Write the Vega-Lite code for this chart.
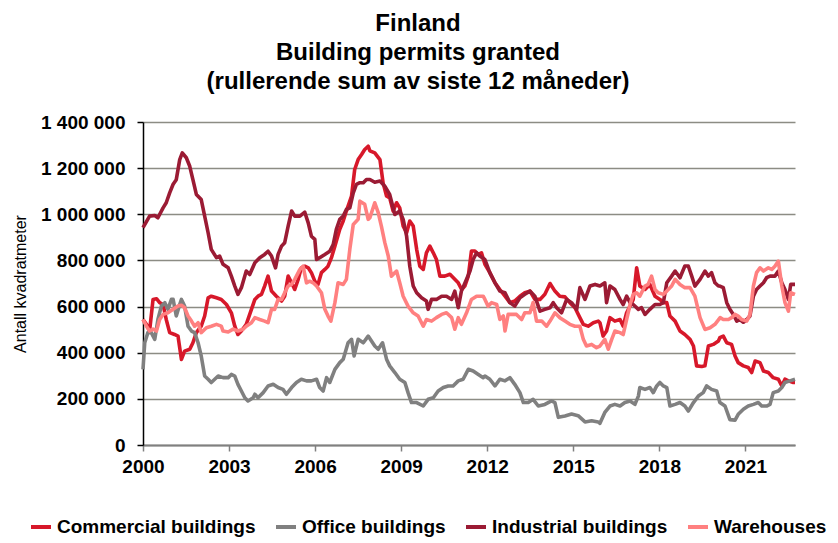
{
 "$schema": "https://vega.github.io/schema/vega-lite/v6.json",
 "width": 652, "height": 323,
 "autosize": {"type": "none"},
 "padding": {"left": 143, "top": 122, "right": 43, "bottom": 98},
 "background": "white",
 "config": {
  "font": "Liberation Sans",
  "view": {"stroke": null},
  "locale": {"number": {"decimal": ",", "thousands": " ", "grouping": [3], "currency": ["", ""]}}
 },
 "title": {"text": ["Finland", "Building permits granted", "(rullerende sum av siste 12 måneder)"], "fontSize": 24, "fontWeight": "bold", "lineHeight": 29, "anchor": "middle", "frame": "group", "dx": -51, "offset": 19, "color": "black", "font": "Liberation Sans"},
 "datasets": {
  "commercial": [
   {"year":2000.00,"value":544000},{"year":2000.12,"value":523000},{"year":2000.23,"value":494000},{"year":2000.35,"value":631000},{"year":2000.47,"value":634000},{"year":2000.58,"value":617000},{"year":2000.70,"value":609000},{"year":2000.81,"value":544000},{"year":2000.93,"value":487000},{"year":2001.10,"value":479000},{"year":2001.22,"value":472000},{"year":2001.34,"value":371000},{"year":2001.45,"value":407000},{"year":2001.63,"value":415000},{"year":2001.74,"value":443000},{"year":2001.86,"value":487000},{"year":2002.03,"value":515000},{"year":2002.15,"value":559000},{"year":2002.27,"value":638000},{"year":2002.38,"value":645000},{"year":2002.56,"value":638000},{"year":2002.73,"value":631000},{"year":2002.91,"value":609000},{"year":2003.08,"value":573000},{"year":2003.20,"value":515000},{"year":2003.31,"value":479000},{"year":2003.43,"value":494000},{"year":2003.60,"value":523000},{"year":2003.78,"value":588000},
   {"year":2003.90,"value":631000},{"year":2004.01,"value":645000},{"year":2004.13,"value":653000},{"year":2004.24,"value":689000},{"year":2004.36,"value":732000},{"year":2004.48,"value":667000},{"year":2004.65,"value":645000},{"year":2004.83,"value":624000},{"year":2004.94,"value":645000},{"year":2005.06,"value":732000},{"year":2005.18,"value":703000},{"year":2005.29,"value":674000},{"year":2005.41,"value":718000},{"year":2005.52,"value":768000},{"year":2005.64,"value":775000},{"year":2005.76,"value":768000},{"year":2005.87,"value":747000},{"year":2005.99,"value":710000},{"year":2006.10,"value":696000},{"year":2006.22,"value":747000},{"year":2006.34,"value":761000},{"year":2006.45,"value":775000},{"year":2006.57,"value":812000},{"year":2006.69,"value":862000},{"year":2006.86,"value":935000},{"year":2006.98,"value":971000},{"year":2007.09,"value":1014000},{"year":2007.27,"value":1079000},{"year":2007.38,"value":1194000},{"year":2007.50,"value":1237000},{"year":2007.62,"value":1259000},{"year":2007.73,"value":1281000},{"year":2007.85,"value":1295000},
   {"year":2007.91,"value":1275000},{"year":2008.08,"value":1266000},{"year":2008.26,"value":1237000},{"year":2008.37,"value":1136000},{"year":2008.49,"value":1079000},{"year":2008.60,"value":1071000},{"year":2008.72,"value":1014000},{"year":2008.84,"value":1050000},{"year":2008.95,"value":1028000},{"year":2009.07,"value":949000},{"year":2009.19,"value":920000},{"year":2009.30,"value":971000},{"year":2009.42,"value":949000},{"year":2009.54,"value":848000},{"year":2009.65,"value":775000},{"year":2009.77,"value":761000},{"year":2009.88,"value":833000},{"year":2010.00,"value":862000},{"year":2010.12,"value":833000},{"year":2010.23,"value":804000},{"year":2010.35,"value":732000},{"year":2010.52,"value":732000},{"year":2010.70,"value":740000},{"year":2010.87,"value":718000},{"year":2010.99,"value":703000},{"year":2011.11,"value":674000},{"year":2011.22,"value":689000},{"year":2011.34,"value":732000},{"year":2011.45,"value":841000},{"year":2011.57,"value":841000},{"year":2011.69,"value":826000},{"year":2011.80,"value":833000},
   {"year":2011.92,"value":783000},{"year":2012.09,"value":747000},{"year":2012.27,"value":703000},{"year":2012.44,"value":674000},{"year":2012.62,"value":645000},{"year":2012.79,"value":617000},{"year":2012.96,"value":624000},{"year":2013.14,"value":645000},{"year":2013.31,"value":660000},{"year":2013.49,"value":667000},{"year":2013.66,"value":631000},{"year":2013.84,"value":631000},{"year":2014.01,"value":653000},{"year":2014.19,"value":700000},{"year":2014.36,"value":667000},{"year":2014.53,"value":645000},{"year":2014.71,"value":642000},{"year":2014.88,"value":617000},{"year":2015.06,"value":595000},{"year":2015.23,"value":552000},{"year":2015.35,"value":523000},{"year":2015.52,"value":515000},{"year":2015.70,"value":530000},{"year":2015.87,"value":537000},
   {"year":2015.93,"value":530000},{"year":2016.04,"value":472000},{"year":2016.16,"value":494000},{"year":2016.28,"value":552000},{"year":2016.45,"value":537000},{"year":2016.63,"value":544000},{"year":2016.74,"value":515000},{"year":2016.86,"value":573000},{"year":2016.98,"value":602000},{"year":2017.09,"value":631000},{"year":2017.21,"value":768000},{"year":2017.32,"value":689000},{"year":2017.50,"value":674000},{"year":2017.67,"value":696000},{"year":2017.85,"value":645000},{"year":2018.02,"value":631000},{"year":2018.14,"value":617000},{"year":2018.26,"value":617000},{"year":2018.37,"value":559000},{"year":2018.55,"value":537000},{"year":2018.72,"value":494000},{"year":2018.89,"value":479000},{"year":2019.07,"value":458000},{"year":2019.19,"value":429000},{"year":2019.30,"value":343000},{"year":2019.48,"value":340000},{"year":2019.59,"value":343000},{"year":2019.71,"value":429000},{"year":2019.88,"value":436000},{"year":2020.06,"value":451000},
   {"year":2020.11,"value":465000},{"year":2020.23,"value":472000},{"year":2020.35,"value":443000},{"year":2020.52,"value":436000},{"year":2020.64,"value":386000},{"year":2020.75,"value":357000},{"year":2020.93,"value":343000},{"year":2021.10,"value":336000},{"year":2021.22,"value":314000},{"year":2021.34,"value":364000},{"year":2021.51,"value":357000},{"year":2021.63,"value":321000},{"year":2021.80,"value":314000},{"year":2021.97,"value":292000},{"year":2022.15,"value":285000},{"year":2022.27,"value":256000},{"year":2022.38,"value":285000},{"year":2022.50,"value":278000},{"year":2022.67,"value":271000},{"year":2022.73,"value":271000}
  ],
  "office": [
   {"year":2000.00,"value":328000},{"year":2000.06,"value":443000},{"year":2000.17,"value":487000},{"year":2000.29,"value":487000},{"year":2000.41,"value":458000},{"year":2000.52,"value":544000},{"year":2000.64,"value":602000},{"year":2000.76,"value":617000},{"year":2000.87,"value":588000},{"year":2000.99,"value":631000},{"year":2001.05,"value":631000},{"year":2001.16,"value":559000},{"year":2001.28,"value":609000},{"year":2001.34,"value":631000},{"year":2001.45,"value":602000},{"year":2001.57,"value":515000},{"year":2001.69,"value":494000},{"year":2001.80,"value":487000},{"year":2001.92,"value":443000},{"year":2002.03,"value":386000},{"year":2002.15,"value":299000},{"year":2002.27,"value":285000},{"year":2002.38,"value":271000},{"year":2002.50,"value":285000},{"year":2002.62,"value":299000},{"year":2002.79,"value":292000},{"year":2002.97,"value":292000},{"year":2003.08,"value":306000},{"year":2003.20,"value":299000},{"year":2003.31,"value":263000},{"year":2003.43,"value":234000},{"year":2003.55,"value":205000},{"year":2003.66,"value":191000},{"year":2003.84,"value":205000},
   {"year":2003.90,"value":220000},{"year":2004.01,"value":205000},{"year":2004.19,"value":227000},{"year":2004.36,"value":256000},{"year":2004.54,"value":263000},{"year":2004.71,"value":249000},{"year":2004.88,"value":241000},{"year":2005.00,"value":220000},{"year":2005.18,"value":249000},{"year":2005.35,"value":271000},{"year":2005.52,"value":285000},{"year":2005.70,"value":278000},{"year":2005.87,"value":278000},{"year":2006.05,"value":285000},{"year":2006.16,"value":249000},{"year":2006.28,"value":234000},{"year":2006.40,"value":292000},{"year":2006.51,"value":271000},{"year":2006.69,"value":328000},{"year":2006.86,"value":357000},{"year":2006.98,"value":372000},{"year":2007.15,"value":443000},{"year":2007.27,"value":458000},{"year":2007.36,"value":386000},{"year":2007.50,"value":458000},{"year":2007.68,"value":443000},{"year":2007.85,"value":472000},
   {"year":2008.08,"value":429000},{"year":2008.20,"value":415000},{"year":2008.35,"value":443000},{"year":2008.49,"value":372000},{"year":2008.60,"value":343000},{"year":2008.78,"value":314000},{"year":2008.95,"value":285000},{"year":2009.13,"value":271000},{"year":2009.24,"value":227000},{"year":2009.36,"value":184000},{"year":2009.54,"value":184000},{"year":2009.77,"value":169000},{"year":2009.94,"value":198000},{"year":2010.12,"value":205000},{"year":2010.29,"value":234000},{"year":2010.47,"value":249000},{"year":2010.64,"value":256000},{"year":2010.81,"value":256000},{"year":2010.99,"value":278000},{"year":2011.16,"value":285000},{"year":2011.34,"value":328000},{"year":2011.51,"value":321000},{"year":2011.69,"value":306000},{"year":2011.86,"value":292000},
   {"year":2011.92,"value":299000},{"year":2012.09,"value":285000},{"year":2012.27,"value":256000},{"year":2012.44,"value":285000},{"year":2012.62,"value":278000},{"year":2012.79,"value":292000},{"year":2012.96,"value":263000},{"year":2013.14,"value":227000},{"year":2013.26,"value":184000},{"year":2013.43,"value":184000},{"year":2013.60,"value":198000},{"year":2013.78,"value":169000},{"year":2014.01,"value":176000},{"year":2014.24,"value":191000},{"year":2014.36,"value":184000},{"year":2014.48,"value":120000},{"year":2014.71,"value":126000},{"year":2014.94,"value":134000},{"year":2015.17,"value":127000},{"year":2015.41,"value":100000},{"year":2015.64,"value":105000},{"year":2015.87,"value":100000},
   {"year":2015.93,"value":94000},{"year":2016.10,"value":141000},{"year":2016.28,"value":169000},{"year":2016.45,"value":176000},{"year":2016.63,"value":169000},{"year":2016.80,"value":184000},{"year":2016.98,"value":191000},{"year":2017.15,"value":176000},{"year":2017.27,"value":212000},{"year":2017.32,"value":249000},{"year":2017.50,"value":241000},{"year":2017.67,"value":249000},{"year":2017.79,"value":227000},{"year":2017.91,"value":256000},{"year":2018.02,"value":271000},{"year":2018.14,"value":256000},{"year":2018.26,"value":249000},{"year":2018.37,"value":169000},{"year":2018.55,"value":176000},{"year":2018.72,"value":184000},{"year":2018.89,"value":169000},{"year":2019.01,"value":147000},{"year":2019.19,"value":184000},{"year":2019.36,"value":212000},{"year":2019.53,"value":227000},{"year":2019.65,"value":256000},{"year":2019.82,"value":241000},{"year":2020.00,"value":234000},
   {"year":2020.11,"value":184000},{"year":2020.29,"value":169000},{"year":2020.46,"value":110000},{"year":2020.64,"value":108000},{"year":2020.75,"value":133000},{"year":2020.93,"value":155000},{"year":2021.10,"value":169000},{"year":2021.28,"value":176000},{"year":2021.45,"value":184000},{"year":2021.57,"value":169000},{"year":2021.74,"value":169000},{"year":2021.86,"value":176000},{"year":2021.97,"value":227000},{"year":2022.15,"value":234000},{"year":2022.27,"value":249000},{"year":2022.38,"value":271000},{"year":2022.55,"value":278000},{"year":2022.73,"value":285000}
  ],
  "industrial": [
   {"year":2000.00,"value":942000},{"year":2000.23,"value":992000},{"year":2000.41,"value":995000},{"year":2000.52,"value":985000},{"year":2000.70,"value":1028000},{"year":2000.81,"value":1050000},{"year":2000.93,"value":1093000},{"year":2001.05,"value":1130000},{"year":2001.16,"value":1150000},{"year":2001.28,"value":1237000},{"year":2001.37,"value":1266000},{"year":2001.51,"value":1245000},{"year":2001.63,"value":1208000},{"year":2001.74,"value":1150000},{"year":2001.86,"value":1086000},{"year":2002.03,"value":1064000},{"year":2002.15,"value":992000},{"year":2002.27,"value":920000},{"year":2002.38,"value":848000},{"year":2002.56,"value":812000},{"year":2002.67,"value":819000},{"year":2002.79,"value":783000},{"year":2002.97,"value":768000},{"year":2003.08,"value":732000},{"year":2003.20,"value":689000},{"year":2003.31,"value":653000},{"year":2003.43,"value":682000},{"year":2003.60,"value":754000},{"year":2003.72,"value":739000},
   {"year":2003.90,"value":790000},{"year":2004.07,"value":812000},{"year":2004.24,"value":826000},{"year":2004.36,"value":840000},{"year":2004.48,"value":819000},{"year":2004.62,"value":768000},{"year":2004.71,"value":826000},{"year":2004.83,"value":862000},{"year":2004.94,"value":877000},{"year":2005.06,"value":949000},{"year":2005.18,"value":1014000},{"year":2005.29,"value":992000},{"year":2005.47,"value":992000},{"year":2005.64,"value":1009000},{"year":2005.76,"value":963000},{"year":2005.87,"value":905000},{"year":2005.99,"value":891000},{"year":2006.05,"value":804000},{"year":2006.16,"value":812000},{"year":2006.34,"value":826000},{"year":2006.51,"value":840000},{"year":2006.63,"value":869000},{"year":2006.74,"value":935000},{"year":2006.86,"value":978000},{"year":2006.98,"value":992000},{"year":2007.09,"value":1021000},{"year":2007.21,"value":1028000},{"year":2007.33,"value":1093000},{"year":2007.44,"value":1130000},{"year":2007.56,"value":1137000},{"year":2007.68,"value":1137000},{"year":2007.79,"value":1151000},
   {"year":2007.91,"value":1151000},{"year":2008.08,"value":1139000},{"year":2008.26,"value":1144000},{"year":2008.43,"value":1122000},{"year":2008.60,"value":1086000},{"year":2008.78,"value":999000},{"year":2008.95,"value":1014000},{"year":2009.07,"value":978000},{"year":2009.19,"value":905000},{"year":2009.30,"value":775000},{"year":2009.42,"value":689000},{"year":2009.54,"value":660000},{"year":2009.71,"value":638000},{"year":2009.88,"value":624000},{"year":2009.94,"value":588000},{"year":2010.06,"value":631000},{"year":2010.23,"value":631000},{"year":2010.41,"value":645000},{"year":2010.58,"value":645000},{"year":2010.76,"value":631000},{"year":2010.87,"value":667000},{"year":2010.99,"value":595000},{"year":2011.10,"value":667000},{"year":2011.28,"value":718000},{"year":2011.40,"value":754000},{"year":2011.51,"value":804000},{"year":2011.63,"value":833000},{"year":2011.74,"value":819000},
   {"year":2011.92,"value":804000},{"year":2012.09,"value":747000},{"year":2012.27,"value":703000},{"year":2012.44,"value":667000},{"year":2012.62,"value":660000},{"year":2012.79,"value":617000},{"year":2012.96,"value":602000},{"year":2013.14,"value":638000},{"year":2013.31,"value":653000},{"year":2013.49,"value":667000},{"year":2013.66,"value":645000},{"year":2013.84,"value":580000},{"year":2014.01,"value":588000},{"year":2014.19,"value":595000},{"year":2014.30,"value":617000},{"year":2014.42,"value":595000},{"year":2014.59,"value":573000},{"year":2014.77,"value":631000},{"year":2014.94,"value":617000},{"year":2015.12,"value":588000},{"year":2015.23,"value":682000},{"year":2015.41,"value":631000},{"year":2015.58,"value":689000},{"year":2015.76,"value":696000},
   {"year":2015.93,"value":689000},{"year":2016.10,"value":703000},{"year":2016.16,"value":617000},{"year":2016.28,"value":689000},{"year":2016.45,"value":674000},{"year":2016.63,"value":631000},{"year":2016.74,"value":609000},{"year":2016.86,"value":645000},{"year":2016.98,"value":617000},{"year":2017.09,"value":609000},{"year":2017.27,"value":588000},{"year":2017.38,"value":595000},{"year":2017.50,"value":566000},{"year":2017.67,"value":588000},{"year":2017.85,"value":609000},{"year":2018.02,"value":609000},{"year":2018.14,"value":617000},{"year":2018.26,"value":703000},{"year":2018.43,"value":732000},{"year":2018.55,"value":754000},{"year":2018.72,"value":725000},{"year":2018.89,"value":776000},{"year":2019.01,"value":776000},{"year":2019.13,"value":732000},{"year":2019.24,"value":689000},{"year":2019.42,"value":718000},{"year":2019.59,"value":754000},{"year":2019.71,"value":732000},{"year":2019.82,"value":747000},{"year":2019.94,"value":703000},{"year":2020.06,"value":689000},
   {"year":2020.11,"value":689000},{"year":2020.23,"value":682000},{"year":2020.35,"value":617000},{"year":2020.46,"value":588000},{"year":2020.58,"value":566000},{"year":2020.70,"value":537000},{"year":2020.81,"value":544000},{"year":2020.93,"value":532000},{"year":2021.05,"value":544000},{"year":2021.16,"value":559000},{"year":2021.28,"value":645000},{"year":2021.39,"value":674000},{"year":2021.51,"value":689000},{"year":2021.63,"value":703000},{"year":2021.74,"value":725000},{"year":2021.86,"value":732000},{"year":2022.03,"value":732000},{"year":2022.15,"value":754000},{"year":2022.27,"value":703000},{"year":2022.38,"value":674000},{"year":2022.50,"value":631000},{"year":2022.58,"value":696000},{"year":2022.73,"value":696000}
  ],
  "warehouses": [
   {"year":2000.00,"value":544000},{"year":2000.12,"value":515000},{"year":2000.23,"value":494000},{"year":2000.35,"value":502000},{"year":2000.47,"value":494000},{"year":2000.58,"value":544000},{"year":2000.70,"value":566000},{"year":2000.87,"value":573000},{"year":2001.05,"value":588000},{"year":2001.22,"value":602000},{"year":2001.34,"value":606000},{"year":2001.45,"value":595000},{"year":2001.57,"value":559000},{"year":2001.69,"value":537000},{"year":2001.80,"value":515000},{"year":2001.92,"value":530000},{"year":2002.03,"value":487000},{"year":2002.21,"value":508000},{"year":2002.38,"value":515000},{"year":2002.56,"value":523000},{"year":2002.73,"value":515000},{"year":2002.79,"value":494000},{"year":2002.97,"value":490000},{"year":2003.14,"value":502000},{"year":2003.31,"value":494000},{"year":2003.49,"value":502000},{"year":2003.60,"value":515000},{"year":2003.78,"value":530000},
   {"year":2003.90,"value":552000},{"year":2004.07,"value":544000},{"year":2004.24,"value":537000},{"year":2004.36,"value":530000},{"year":2004.48,"value":588000},{"year":2004.59,"value":588000},{"year":2004.71,"value":631000},{"year":2004.83,"value":631000},{"year":2004.94,"value":660000},{"year":2005.06,"value":689000},{"year":2005.18,"value":696000},{"year":2005.29,"value":718000},{"year":2005.47,"value":761000},{"year":2005.58,"value":775000},{"year":2005.70,"value":703000},{"year":2005.81,"value":710000},{"year":2005.93,"value":703000},{"year":2006.05,"value":689000},{"year":2006.22,"value":660000},{"year":2006.34,"value":588000},{"year":2006.45,"value":559000},{"year":2006.55,"value":537000},{"year":2006.69,"value":617000},{"year":2006.80,"value":703000},{"year":2006.98,"value":696000},{"year":2007.09,"value":718000},{"year":2007.21,"value":848000},{"year":2007.33,"value":956000},{"year":2007.50,"value":978000},{"year":2007.56,"value":1057000},{"year":2007.73,"value":1043000},{"year":2007.85,"value":978000},
   {"year":2007.91,"value":985000},{"year":2008.08,"value":1050000},{"year":2008.20,"value":1007000},{"year":2008.31,"value":949000},{"year":2008.43,"value":877000},{"year":2008.55,"value":819000},{"year":2008.66,"value":732000},{"year":2008.84,"value":754000},{"year":2008.95,"value":703000},{"year":2009.07,"value":645000},{"year":2009.24,"value":602000},{"year":2009.42,"value":573000},{"year":2009.59,"value":559000},{"year":2009.77,"value":515000},{"year":2009.88,"value":544000},{"year":2010.06,"value":537000},{"year":2010.23,"value":552000},{"year":2010.41,"value":566000},{"year":2010.58,"value":573000},{"year":2010.76,"value":552000},{"year":2010.87,"value":502000},{"year":2010.99,"value":552000},{"year":2011.10,"value":523000},{"year":2011.28,"value":573000},{"year":2011.45,"value":631000},{"year":2011.63,"value":645000},{"year":2011.86,"value":645000},
   {"year":2011.92,"value":631000},{"year":2012.03,"value":602000},{"year":2012.15,"value":617000},{"year":2012.33,"value":609000},{"year":2012.44,"value":544000},{"year":2012.56,"value":559000},{"year":2012.62,"value":494000},{"year":2012.73,"value":566000},{"year":2012.85,"value":566000},{"year":2013.02,"value":566000},{"year":2013.20,"value":544000},{"year":2013.31,"value":573000},{"year":2013.49,"value":573000},{"year":2013.60,"value":617000},{"year":2013.72,"value":537000},{"year":2013.90,"value":537000},{"year":2014.07,"value":515000},{"year":2014.19,"value":537000},{"year":2014.36,"value":573000},{"year":2014.53,"value":552000},{"year":2014.71,"value":537000},{"year":2014.88,"value":523000},{"year":2015.06,"value":515000},{"year":2015.23,"value":515000},{"year":2015.35,"value":458000},{"year":2015.46,"value":429000},{"year":2015.64,"value":436000},{"year":2015.81,"value":422000},
   {"year":2015.93,"value":429000},{"year":2016.10,"value":458000},{"year":2016.22,"value":415000},{"year":2016.34,"value":458000},{"year":2016.45,"value":494000},{"year":2016.63,"value":487000},{"year":2016.74,"value":479000},{"year":2016.86,"value":544000},{"year":2016.98,"value":609000},{"year":2017.09,"value":653000},{"year":2017.21,"value":660000},{"year":2017.32,"value":645000},{"year":2017.50,"value":689000},{"year":2017.61,"value":696000},{"year":2017.73,"value":732000},{"year":2017.85,"value":674000},{"year":2017.96,"value":660000},{"year":2018.14,"value":653000},{"year":2018.26,"value":667000},{"year":2018.43,"value":689000},{"year":2018.55,"value":718000},{"year":2018.72,"value":696000},{"year":2018.89,"value":682000},{"year":2019.07,"value":682000},{"year":2019.24,"value":645000},{"year":2019.42,"value":552000},{"year":2019.59,"value":501000},{"year":2019.77,"value":508000},{"year":2019.94,"value":523000},{"year":2020.12,"value":552000},
   {"year":2020.23,"value":544000},{"year":2020.41,"value":544000},{"year":2020.52,"value":552000},{"year":2020.64,"value":566000},{"year":2020.75,"value":559000},{"year":2020.87,"value":544000},{"year":2021.05,"value":537000},{"year":2021.16,"value":566000},{"year":2021.28,"value":689000},{"year":2021.39,"value":747000},{"year":2021.51,"value":768000},{"year":2021.63,"value":754000},{"year":2021.80,"value":768000},{"year":2021.92,"value":761000},{"year":2022.03,"value":775000},{"year":2022.15,"value":797000},{"year":2022.27,"value":689000},{"year":2022.38,"value":617000},{"year":2022.50,"value":580000},{"year":2022.58,"value":660000},{"year":2022.73,"value":653000}
  ]
 },
 "encoding": {
  "x": {"field": "year", "type": "quantitative",
   "scale": {"domain": [2000, 2022.73], "nice": false, "zero": false},
   "axis": {"values": [2000, 2003, 2006, 2009, 2012, 2015, 2018, 2021], "format": "d", "title": null, "grid": false,
    "labelFlush": false, "labelOverlap": false,
    "domainColor": "#808080", "domainWidth": 2, "tickColor": "#808080", "tickWidth": 1.5, "tickSize": 6,
    "labelFontSize": 19, "labelFontWeight": "bold", "labelColor": "black", "labelPadding": 6, "labelFont": "Liberation Sans"}},
  "y": {"field": "value", "type": "quantitative",
   "scale": {"domain": [0, 1400000], "nice": false},
   "axis": {"values": [0, 200000, 400000, 600000, 800000, 1000000, 1200000, 1400000], "format": ",d",
    "title": "Antall kvadratmeter", "titleFontSize": 16, "titleFontWeight": "normal", "titleColor": "black", "titlePadding": 12, "titleFont": "Liberation Sans",
    "grid": true, "gridColor": "#8c8c84", "gridWidth": 1.5, "labelFlush": false,
    "domainColor": "black", "domainWidth": 1.5, "tickColor": "black", "tickWidth": 1.5, "tickSize": 6,
    "labelFontSize": 19, "labelFontWeight": "bold", "labelColor": "black", "labelPadding": 12, "labelFont": "Liberation Sans"}}
 },
 "layer": [
  {"data": {"name": "commercial"}, "mark": {"type": "line", "strokeWidth": 3.6, "strokeJoin": "round"},
   "encoding": {"color": {"datum": "Commercial buildings", "type": "nominal",
    "scale": {"domain": ["Commercial buildings", "Office buildings", "Industrial buildings", "Warehouses"], "range": ["#d7182a", "#808080", "#9b1b34", "#ff8080"]},
    "legend": {"orient": "none", "legendX": -114, "legendY": 393, "direction": "horizontal", "title": null,
     "labelFontSize": 19, "labelFontWeight": "bold", "labelColor": "black", "labelFont": "Liberation Sans", "labelLimit": 400,
     "symbolType": "stroke", "symbolStrokeWidth": 4, "symbolSize": 400, "labelOffset": 4, "columnPadding": 12}}}},
  {"data": {"name": "office"}, "mark": {"type": "line", "strokeWidth": 3.6, "strokeJoin": "round"},
   "encoding": {"color": {"datum": "Office buildings", "type": "nominal"}}},
  {"data": {"name": "industrial"}, "mark": {"type": "line", "strokeWidth": 3.6, "strokeJoin": "round"},
   "encoding": {"color": {"datum": "Industrial buildings", "type": "nominal"}}},
  {"data": {"name": "warehouses"}, "mark": {"type": "line", "strokeWidth": 3.6, "strokeJoin": "round"},
   "encoding": {"color": {"datum": "Warehouses", "type": "nominal"}}}
 ]
}
